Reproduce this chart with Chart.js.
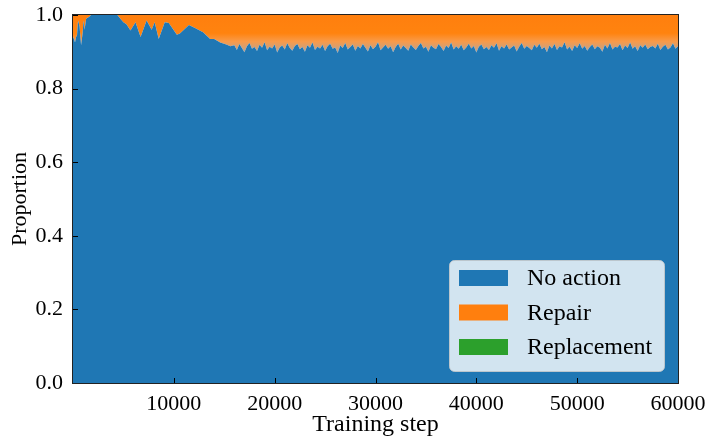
<!doctype html>
<html>
<head>
<meta charset="utf-8">
<script src="https://cdnjs.cloudflare.com/ajax/libs/Chart.js/4.4.1/chart.umd.min.js"></script>
<style>
  body { margin: 0; background: #fff; }
</style>
</head>
<body>
<canvas id="c1" width="707" height="439"></canvas>
<script>
// training steps (x)
const steps = [
  0, 100, 200, 300, 400, 500, 650, 800, 950, 1050,
  1150, 1300, 1600, 1800, 2500, 3500, 4400, 4700, 5000, 5300,
  5700, 6200, 6700, 7300, 7800, 8100, 8500, 9100, 9500, 10300,
  10600, 11500, 12100, 12900, 13600, 14000, 14600, 15200, 15600,
  16000, 16250, 16500, 16750, 17000, 17250, 17500, 17750, 18000, 18250,
  18500, 18750, 19000, 19250, 19500, 19750, 20000, 20250, 20500, 20750,
  21000, 21250, 21500, 21750, 22000, 22250, 22500, 22750, 23000, 23250,
  23500, 23750, 24000, 24250, 24500, 24750, 25000, 25250, 25500, 25750,
  26000, 26250, 26500, 26750, 27000, 27250, 27500, 27750, 28000, 28250,
  28500, 28750, 29000, 29250, 29500, 29750, 30000, 30250, 30500, 30750,
  31000, 31250, 31500, 31750, 32000, 32250, 32500, 32750, 33000, 33250,
  33500, 33750, 34000, 34250, 34500, 34750, 35000, 35250, 35500, 35750,
  36000, 36250, 36500, 36750, 37000, 37250, 37500, 37750, 38000, 38250,
  38500, 38750, 39000, 39250, 39500, 39750, 40000, 40250, 40500, 40750,
  41000, 41250, 41500, 41750, 42000, 42250, 42500, 42750, 43000, 43250,
  43500, 43750, 44000, 44250, 44500, 44750, 45000, 45250, 45500, 45750,
  46000, 46250, 46500, 46750, 47000, 47250, 47500, 47750, 48000, 48250,
  48500, 48750, 49000, 49250, 49500, 49750, 50000, 50250, 50500, 50750,
  51000, 51250, 51500, 51750, 52000, 52250, 52500, 52750, 53000, 53250,
  53500, 53750, 54000, 54250, 54500, 54750, 55000, 55250, 55500, 55750,
  56000, 56250, 56500, 56750, 57000, 57250, 57500,
  57750, 58000, 58250, 58500, 58750, 59000, 59250, 59500, 59750, 60000
];

const noAction = [
  0.940, 0.935, 0.925, 0.940, 0.945, 0.985, 0.970, 0.918, 0.950, 0.985,
  0.960, 0.990, 0.995, 1.000, 1.000, 1.000, 1.000, 0.990, 0.980, 0.975,
  0.958, 0.980, 0.940, 0.985, 0.960, 0.980, 0.935, 0.980, 0.978, 0.946,
  0.950, 0.973, 0.965, 0.953, 0.935, 0.935, 0.925, 0.920, 0.915,
  0.918, 0.905, 0.921, 0.910, 0.899, 0.915, 0.924, 0.908, 0.913, 0.902,
  0.919, 0.911, 0.926, 0.904, 0.914, 0.909, 0.920, 0.898, 0.912, 0.917,
  0.906, 0.923, 0.910, 0.903, 0.916, 0.921, 0.907, 0.913, 0.900, 0.918,
  0.911, 0.925, 0.905, 0.914, 0.909, 0.919, 0.902, 0.915, 0.922, 0.908,
  0.912, 0.897, 0.917, 0.910, 0.924, 0.906, 0.913, 0.920, 0.903, 0.916,
  0.909, 0.921, 0.911, 0.901, 0.918, 0.907, 0.914, 0.926, 0.904, 0.912,
  0.919, 0.908, 0.915, 0.899, 0.913, 0.922, 0.906, 0.917, 0.910, 0.903,
  0.920, 0.912, 0.905, 0.916, 0.924, 0.909, 0.914, 0.900, 0.918, 0.911,
  0.907, 0.921, 0.913, 0.902, 0.917, 0.910, 0.925, 0.906, 0.915, 0.908,
  0.919, 0.904, 0.912, 0.922, 0.909, 0.916, 0.898, 0.914, 0.920, 0.907,
  0.913, 0.905, 0.918, 0.911, 0.923, 0.903, 0.915, 0.909, 0.920, 0.906,
  0.912, 0.917, 0.901, 0.914, 0.924, 0.908, 0.916, 0.910, 0.904, 0.919,
  0.911, 0.922, 0.907, 0.913, 0.899, 0.917, 0.909, 0.921, 0.905, 0.915,
  0.912, 0.926, 0.906, 0.914, 0.902, 0.918, 0.910, 0.923, 0.908, 0.916,
  0.903, 0.913, 0.920, 0.907, 0.915, 0.911, 0.900, 0.919, 0.909, 0.924,
  0.906, 0.914, 0.912, 0.921, 0.904, 0.917, 0.910, 0.925, 0.908, 0.915,
  0.902, 0.918, 0.911, 0.920, 0.907, 0.913, 0.916,
  0.909, 0.922, 0.905, 0.914, 0.919, 0.906, 0.912, 0.923, 0.908, 0.915
];

const repair = [
  0.060, 0.065, 0.075, 0.060, 0.055, 0.015, 0.030, 0.082, 0.050, 0.015,
  0.040, 0.010, 0.005, 0.000, 0.000, 0.000, 0.000, 0.010, 0.020, 0.025,
  0.042, 0.020, 0.060, 0.015, 0.040, 0.020, 0.065, 0.020, 0.022, 0.054,
  0.050, 0.027, 0.035, 0.047, 0.065, 0.065, 0.075, 0.080, 0.085,
  0.082, 0.095, 0.079, 0.090, 0.101, 0.085, 0.076, 0.092, 0.087, 0.098,
  0.081, 0.089, 0.074, 0.096, 0.086, 0.091, 0.080, 0.102, 0.088, 0.083,
  0.094, 0.077, 0.090, 0.097, 0.084, 0.079, 0.093, 0.087, 0.100, 0.082,
  0.089, 0.075, 0.095, 0.086, 0.091, 0.081, 0.098, 0.085, 0.078, 0.092,
  0.088, 0.103, 0.083, 0.090, 0.076, 0.094, 0.087, 0.080, 0.097, 0.084,
  0.091, 0.079, 0.089, 0.099, 0.082, 0.093, 0.086, 0.074, 0.096, 0.088,
  0.081, 0.092, 0.085, 0.101, 0.087, 0.078, 0.094, 0.083, 0.090, 0.097,
  0.080, 0.088, 0.095, 0.084, 0.076, 0.091, 0.086, 0.100, 0.082, 0.089,
  0.093, 0.079, 0.087, 0.098, 0.083, 0.090, 0.075, 0.094, 0.085, 0.092,
  0.081, 0.096, 0.088, 0.078, 0.091, 0.084, 0.102, 0.086, 0.080, 0.093,
  0.087, 0.095, 0.082, 0.089, 0.077, 0.097, 0.085, 0.091, 0.080, 0.094,
  0.088, 0.083, 0.099, 0.086, 0.076, 0.092, 0.084, 0.090, 0.096, 0.081,
  0.089, 0.078, 0.093, 0.087, 0.101, 0.083, 0.091, 0.079, 0.095, 0.085,
  0.088, 0.074, 0.094, 0.086, 0.098, 0.082, 0.090, 0.077, 0.092, 0.084,
  0.097, 0.087, 0.080, 0.093, 0.085, 0.089, 0.100, 0.081, 0.091, 0.076,
  0.094, 0.086, 0.088, 0.079, 0.096, 0.083, 0.090, 0.075, 0.092, 0.085,
  0.098, 0.082, 0.089, 0.080, 0.093, 0.087, 0.084,
  0.091, 0.078, 0.095, 0.086, 0.081, 0.094, 0.088, 0.077, 0.092, 0.085
];

// replacement never shows up in the picture: zero throughout
const replacement = new Array(steps.length).fill(0);

const seriesNames = ['No action', 'Repair', 'Replacement'];
const seriesColors = ['#1f77b4', '#ff7f0e', '#2ca02c'];
const xTicks = [10000, 20000, 30000, 40000, 50000, 60000];

const fam = "'Liberation Serif', 'Times New Roman', serif";

function pts(vals) {
  return steps.map((s, i) => ({ x: s, y: vals[i] }));
}

// the repair band fades into the blue near its lower edge (noisy boundary in the original)
function repairFill(c) {
  const chart = c.chart;
  const ys = chart.scales.y;
  if (!chart.chartArea || !ys) return seriesColors[1];
  const g = chart.ctx.createLinearGradient(0, ys.getPixelForValue(1), 0, ys.getPixelForValue(0.89));
  g.addColorStop(0, '#ff7f0e');
  g.addColorStop(0.45, '#ff830f');
  g.addColorStop(0.65, '#f99a48');
  g.addColorStop(0.85, '#c9a07f');
  g.addColorStop(1, '#7f9cb9');
  return g;
}

// spines and inward tick marks, like matplotlib
const frame = {
  id: 'frame',
  afterDraw(chart) {
    const ctx = chart.ctx, a = chart.chartArea;
    const xs = chart.scales.x, ys = chart.scales.y;
    ctx.save();
    ctx.strokeStyle = '#000';
    ctx.lineWidth = 1;
    ctx.beginPath();
    xs.ticks.forEach(t => {
      const px = Math.round(xs.getPixelForValue(t.value)) + 0.5;
      ctx.moveTo(px, a.bottom);
      ctx.lineTo(px, a.bottom - 5);
    });
    ys.ticks.forEach(t => {
      const py = Math.round(ys.getPixelForValue(t.value)) + 0.5;
      ctx.moveTo(a.left, py);
      ctx.lineTo(a.left + 5, py);
    });
    ctx.stroke();
    ctx.strokeStyle = '#222';
    ctx.strokeRect(Math.round(a.left) - 0.5, Math.round(a.top) - 0.5,
      Math.round(a.right - a.left) + 1, Math.round(a.bottom - a.top) + 1);
    ctx.restore();
  }
};

// legend inside the plot, lower right
const insideLegend = {
  id: 'insideLegend',
  afterDraw(chart) {
    const ctx = chart.ctx, a = chart.chartArea;
    const w = 215, h = 111;
    const x0 = Math.round(a.right - 14 - w), y0 = Math.round(a.bottom - 12 - h);
    ctx.save();
    ctx.beginPath();
    ctx.roundRect(x0 + 0.5, y0 + 0.5, w, h, 5);
    ctx.fillStyle = 'rgba(255,255,255,0.8)';
    ctx.fill();
    ctx.strokeStyle = 'rgba(204,204,204,0.8)';
    ctx.lineWidth = 1;
    ctx.stroke();
    ctx.font = '24px ' + fam;
    ctx.textBaseline = 'middle';
    chart.data.datasets.forEach((ds, i) => {
      const cy = y0 + 18 + i * 34.5;
      ctx.fillStyle = seriesColors[i];
      ctx.fillRect(x0 + 10, cy - 8, 49, 16);
      ctx.fillStyle = '#000';
      ctx.fillText(ds.label, x0 + 78, cy + 1);
    });
    ctx.restore();
  }
};

const chart1 = new Chart(document.getElementById('c1'), {
  type: 'line',
  data: {
    datasets: [
      { label: seriesNames[0], data: pts(noAction), backgroundColor: seriesColors[0], fill: 'origin' },
      { label: seriesNames[1], data: pts(repair), backgroundColor: repairFill, fill: '-1' },
      { label: seriesNames[2], data: pts(replacement), backgroundColor: seriesColors[2], fill: '-1' }
    ]
  },
  options: {
    responsive: false,
    animation: false,
    layout: { padding: { top: 15, right: 29, left: 0, bottom: 0 } },
    elements: {
      point: { radius: 0, hoverRadius: 0 },
      line: { borderWidth: 0, borderColor: 'rgba(0,0,0,0)', tension: 0 }
    },
    plugins: {
      legend: { display: false },
      tooltip: { enabled: false }
    },
    scales: {
      x: {
        type: 'linear',
        min: 0,
        max: 60000,
        afterBuildTicks(s) { s.ticks = xTicks.map(v => ({ value: v })); },
        afterFit(s) { s.height = 56; s.paddingLeft = 0; s.paddingRight = 0; },
        ticks: { color: '#000', font: { family: fam, size: 22 }, padding: 8, maxRotation: 0, autoSkip: false,
          callback: v => String(v) },
        grid: { display: false, drawTicks: false },
        border: { display: false },
        title: { display: true, text: 'Training step', color: '#000', font: { family: fam, size: 24 }, padding: 0 }
      },
      y: {
        stacked: true,
        min: 0,
        max: 1,
        afterFit(s) { s.width = 73; s.paddingTop = 0; s.paddingBottom = 0; },
        ticks: { stepSize: 0.2, color: '#000', font: { family: fam, size: 22 }, padding: 10,
          callback: v => v.toFixed(1) },
        grid: { display: false, drawTicks: false },
        border: { display: false },
        title: { display: true, text: 'Proportion', color: '#000', font: { family: fam, size: 22 }, padding: { top: 7, bottom: 0 } }
      }
    }
  },
  plugins: [frame, insideLegend]
});
</script>
</body>
</html>
